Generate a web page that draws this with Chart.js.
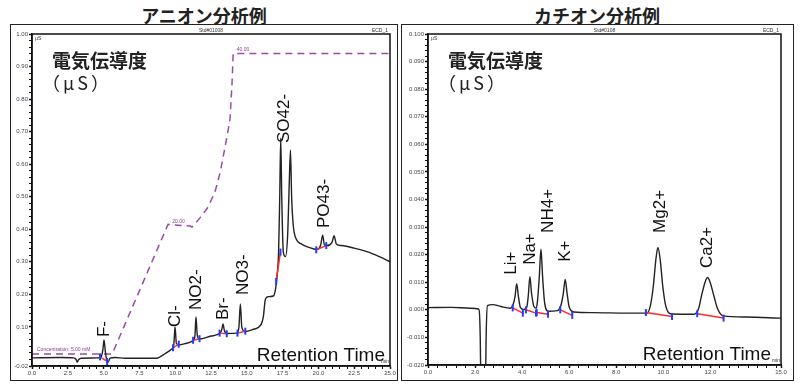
<!DOCTYPE html>
<html>
<head>
<meta charset="utf-8">
<script src="https://cdn.jsdelivr.net/npm/chart.js@4.4.1/dist/chart.umd.min.js"></script>
<style>
body{margin:0;background:#fff;width:800px;height:385px;position:relative;overflow:hidden;}
.title{position:absolute;top:6px;font-family:"Noto Sans CJK JP",sans-serif;font-size:18px;line-height:18px;font-weight:bold;color:#222;text-align:center;}
.frame{position:absolute;border:1.5px solid #222;box-sizing:border-box;}
.wrap{position:absolute;}
</style>
</head>
<body>
<div class="title" style="left:10px;width:388px">アニオン分析例</div>
<div class="title" style="left:401px;width:392px">カチオン分析例</div>
<div class="frame" style="left:10px;top:24px;width:388px;height:357px"></div>
<div class="frame" style="left:401px;top:24px;width:393px;height:357px"></div>
<div class="wrap" style="left:10px;top:24px"><canvas id="anion" width="388" height="356"></canvas></div>
<div class="wrap" style="left:401px;top:24px"><canvas id="cation" width="392" height="356"></canvas></div>
<script>
// anion chromatogram (min / uS)
var anionTime = [0.0, 2.0, 2.9, 3.08, 3.16, 3.26, 3.45, 4.6, 4.85, 4.95, 5.03, 5.12, 5.22, 5.32, 5.45, 5.8, 6.5, 8.7,
  9.3, 9.75, 9.9, 9.99, 10.08, 10.25, 10.8, 11.25, 11.38, 11.45, 11.54, 11.7, 12.5, 13.15, 13.27, 13.34, 13.43, 13.6,
  14.3, 14.45, 14.55, 14.65, 14.85, 15.4, 16.0, 16.15, 16.3, 16.5, 16.85, 17.0, 17.12, 17.22, 17.3, 17.37, 17.44,
  17.55, 17.7, 17.85, 17.97, 18.05, 18.13, 18.25, 18.45, 18.8, 19.3, 19.9, 20.15, 20.3, 20.42, 20.6, 20.95, 21.1,
  21.25, 21.6, 22.5, 23.5, 24.3, 25.0];
var anionSignal = [0.005, 0.006, 0.005, 0.0, -0.008, 0.0, 0.004, 0.005, 0.01, 0.03, 0.06, 0.025, -0.002, -0.008, 0.004, 0.006, 0.004, 0.004,
  0.018, 0.032, 0.045, 0.10, 0.05, 0.045, 0.05, 0.058, 0.075, 0.131, 0.075, 0.063, 0.072, 0.082, 0.095, 0.109, 0.09, 0.08,
  0.081, 0.10, 0.171, 0.10, 0.086, 0.092, 0.108, 0.13, 0.185, 0.193, 0.195, 0.215, 0.26, 0.33, 0.5, 0.68, 0.5,
  0.33, 0.316, 0.38, 0.55, 0.643, 0.5, 0.41, 0.37, 0.355, 0.345, 0.338, 0.35, 0.382, 0.352, 0.35, 0.36, 0.38,
  0.355, 0.35, 0.342, 0.33, 0.315, 0.30];
// eluent gradient (dashed purple)
var anionGradTime = [0, 5.6, 9.5, 11.05, 11.17, 11.73, 12.29, 12.78, 13.13, 13.4, 13.68, 13.83, 13.97, 14.05, 25];
var anionGradValue = [0.017, 0.017, 0.415, 0.41, 0.407, 0.435, 0.468, 0.515, 0.573, 0.634, 0.70, 0.74, 0.85, 0.94, 0.94];
// integration start/end marks
var anionIntTime = [4.75, 5.25, 9.85, 10.25, 11.25, 11.7, 13.1, 13.6, 14.35, 14.9, 17.05, 17.35, 19.85, 20.55];
var anionIntValue = [0.008, -0.006, 0.036, 0.047, 0.059, 0.064, 0.081, 0.079, 0.081, 0.087, 0.24, 0.33, 0.337, 0.35];
var anionPeakNames = ['F-', 'Cl-', 'NO2-', 'Br-', 'NO3-', 'SO42-', 'PO43-'];
var anionPeakTimes = [5.03, 9.99, 11.45, 13.34, 14.73, 17.6, 20.39];
var anionXLabels = [0, 2.5, 5, 7.5, 10, 12.5, 15, 17.5, 20, 22.5, 25];
var anionYLabels = [-0.02, 0.1, 0.2, 0.3, 0.4, 0.5, 0.6, 0.7, 0.8, 0.9, 1.0];

// cation chromatogram
var cationTime = [0.0, 1.0, 1.8, 2.15, 2.22, 2.27, 2.42, 2.47, 2.53, 2.75, 3.1, 3.5, 3.62, 3.7, 3.77, 3.84, 3.93, 4.08,
  4.2, 4.26, 4.33, 4.4, 4.5, 4.6, 4.65, 4.73, 4.8, 4.87, 4.95, 5.1, 5.5, 5.66, 5.75, 5.83, 5.91, 6.0, 6.2, 7.0, 8.5,
  9.3, 9.45, 9.58, 9.68, 9.77, 9.87, 9.97, 10.1, 10.35, 11.3, 11.5, 11.62, 11.78, 11.88, 11.98, 12.15, 12.3, 12.55,
  13.5, 15.0];
var cationSignal = [0.0008, 0.0009, 0.0006, 0.0003, -0.01, -0.045, -0.045, -0.01, 0.0015, 0.0019, 0.0012, 0.0006, 0.002, 0.005, 0.0095, 0.005, 0.0008, 0.0001,
  0.001, 0.005, 0.012, 0.006, 0.0012, 0.0006, 0.003, 0.012, 0.022, 0.012, 0.003, -0.0005, -0.0003, 0.002, 0.006, 0.011, 0.006, 0.001, -0.0008, -0.001, -0.0012,
  -0.0012, 0.0015, 0.009, 0.018, 0.0226, 0.018, 0.009, 0.0015, -0.0015, -0.0016, 0.0005, 0.005, 0.0102, 0.0117, 0.0102, 0.005, 0.0005, -0.0022,
  -0.0026, -0.003];
var cationIntTime = [3.6, 4.03, 4.16, 4.59, 4.62, 5.1, 5.62, 6.13, 9.26, 10.37, 11.44, 12.56];
var cationIntValue = [0.0007, -0.0012, 0.0, -0.0012, -0.001, -0.0016, 0.0, -0.002, -0.001, -0.0024, -0.0014, -0.003];
var cationPeakNames = ['Li+', 'Na+', 'NH4+', 'K+', 'Mg2+', 'Ca2+'];
var cationPeakTimes = [3.56, 4.33, 5.1, 5.83, 9.86, 11.87];
var cationXLabels = [0, 2, 4, 6, 8, 10, 12, 15];
var cationYLabels = [-0.02, -0.01, 0, 0.01, 0.02, 0.03, 0.04, 0.05, 0.06, 0.07, 0.08, 0.09, 0.1];

function xy(xs, ys) {
	return xs.map(function (x, i) { return {x: x, y: ys[i]}; });
}
function segs(xs, ys) {
	var out = [];
	for (var i = 0; i < xs.length; i += 2) {
		out.push({x: xs[i], y: ys[i]}, {x: xs[i + 1], y: ys[i + 1]}, {x: xs[i + 1], y: null});
	}
	return out;
}
function isLabel(v, labels) {
	return labels.some(function (l) { return Math.abs(l - v) < 1e-6; });
}
function buildTicks(min, max, step, labels) {
	var list = [];
	var n = Math.floor((max - min) / step + 1e-9);
	for (var i = 0; i <= n; i++) list.push(+(min + i * step).toFixed(4));
	labels.forEach(function (v) { if (!isLabel(v, list)) list.push(v); });
	list.sort(function (a, b) { return a - b; });
	return list.map(function (v) { return {value: v}; });
}

var LATIN = '"Liberation Sans", Arial, sans-serif';
var JP = '"Noto Sans CJK JP", sans-serif';

var panelText = {
	id: 'panelText',
	afterDatasetsDraw: function (chart, args, o) {
		var ctx = chart.ctx, a = chart.chartArea, xs = chart.scales.x, ys = chart.scales.y;
		ctx.save();
		ctx.strokeStyle = '#111';
		ctx.lineWidth = 1.5;
		ctx.strokeRect(a.left, a.top, a.right - a.left, a.bottom - a.top);

		ctx.fillStyle = '#111';
		ctx.font = '17px ' + LATIN;
		ctx.textAlign = 'left';
		ctx.textBaseline = 'middle';
		o.names.forEach(function (n, i) {
			ctx.save();
			ctx.translate(xs.getPixelForValue(o.times[i]), ys.getPixelForValue(o.base[i]));
			ctx.rotate(-Math.PI / 2);
			ctx.fillText(n, 0, 0);
			ctx.restore();
		});

		ctx.fillStyle = '#222';
		ctx.font = 'bold 19px ' + JP;
		ctx.fillText('電気伝導度', a.left + 20, a.top + 27);
		ctx.font = '18px ' + JP;
		ctx.letterSpacing = '3px';
		ctx.fillText('（μS）', a.left + 10, a.top + 49);
		ctx.letterSpacing = '0px';

		ctx.fillStyle = '#111';
		ctx.font = '19px ' + LATIN;
		ctx.textAlign = 'right';
		ctx.textBaseline = 'alphabetic';
		ctx.fillText('Retention Time', a.right - o.retRight, a.bottom - 5);

		// small header texts of the data system
		ctx.font = '5px ' + LATIN;
		ctx.fillStyle = '#333';
		ctx.textBaseline = 'middle';
		ctx.textAlign = 'center';
		ctx.fillText(o.header, (a.left + a.right) / 2, a.top - 3);
		ctx.textAlign = 'right';
		ctx.fillText('ECD_1', a.right - 2, a.top - 3);
		ctx.fillText('min', a.right - 1, a.bottom - 4);
		ctx.textAlign = 'left';
		ctx.fillText('µS', a.left + 3, a.top + 5);

		ctx.fillStyle = '#8e3a9a';
		(o.notes || []).forEach(function (t) {
			ctx.fillText(t.text, xs.getPixelForValue(t.x), ys.getPixelForValue(t.y));
		});
		ctx.restore();
	}
};

function axis(min, max, step, labels, dec, size) {
	return {
		type: 'linear',
		min: min,
		max: max,
		afterBuildTicks: function (s) { s.ticks = buildTicks(min, max, step, labels); },
		afterFit: size,
		border: {color: '#111', width: 1.5},
		grid: {
			drawOnChartArea: false,
			tickLength: 3,
			tickColor: '#111',
			tickWidth: function (c) { return c.tick && isLabel(c.tick.value, labels) ? 1.5 : 1; }
		},
		ticks: {
			autoSkip: false,
			maxRotation: 0,
			padding: 1,
			color: '#445',
			font: {family: LATIN, size: 6},
			callback: function (v) { return isLabel(v, labels) ? v.toFixed(dec) : ''; }
		}
	};
}

function makeChart(id, cfg) {
	var datasets = [
		{data: xy(cfg.time, cfg.signal), borderColor: '#222', borderWidth: 1.4, pointRadius: 0, cubicInterpolationMode: 'monotone', order: 2},
		{data: segs(cfg.intTime, cfg.intValue), borderColor: '#ff2a2a', borderWidth: 1.5, pointRadius: 0, spanGaps: false, order: 1},
		{data: xy(cfg.intTime, cfg.intValue), showLine: false, pointStyle: 'line', rotation: 90, pointRadius: 3.5, borderColor: '#1f3cff', borderWidth: 2, order: 0}
	];
	if (cfg.gradTime) {
		datasets.push({data: xy(cfg.gradTime, cfg.gradValue), borderColor: '#9b4aa8', borderWidth: 1.5, borderDash: [7, 5], pointRadius: 0, tension: 0, order: 3});
	}
	return new Chart(document.getElementById(id).getContext('2d'), {
		type: 'line',
		data: {datasets: datasets},
		options: {
			responsive: false,
			animation: false,
			layout: {padding: cfg.padding},
			scales: {
				x: axis(cfg.xMin, cfg.xMax, cfg.xStep, cfg.xLabels, 1, function (s) { s.height = cfg.xHeight; }),
				y: axis(cfg.yMin, cfg.yMax, cfg.yStep, cfg.yLabels, cfg.yDec, function (s) { s.width = cfg.yWidth; })
			},
			plugins: {
				legend: {display: false},
				tooltip: {enabled: false},
				panelText: cfg.text
			}
		},
		plugins: [panelText]
	});
}

makeChart('anion', {
	time: anionTime, signal: anionSignal, gradTime: anionGradTime, gradValue: anionGradValue,
	intTime: anionIntTime, intValue: anionIntValue,
	xMin: 0, xMax: 25, xStep: 0.5, xLabels: anionXLabels,
	yMin: -0.02, yMax: 1.0, yStep: 0.02, yLabels: anionYLabels, yDec: 2,
	padding: {top: 10, right: 8, left: 0, bottom: 0}, xHeight: 14, yWidth: 22,
	text: {
		names: anionPeakNames, times: anionPeakTimes,
		base: [0.069, 0.10, 0.152, 0.121, 0.198, 0.665, 0.404],
		retRight: 5, header: 'Std#01008',
		notes: [{text: 'Concentration: 5.00 mM', x: 0.35, y: 0.029}, {text: '20.00', x: 9.8, y: 0.425}, {text: '40.00', x: 14.3, y: 0.951}]
	}
});

makeChart('cation', {
	time: cationTime, signal: cationSignal,
	intTime: cationIntTime, intValue: cationIntValue,
	xMin: 0, xMax: 15, xStep: 0.4, xLabels: cationXLabels,
	yMin: -0.02, yMax: 0.1, yStep: 0.002, yLabels: cationYLabels, yDec: 3,
	padding: {top: 10, right: 12, left: 0, bottom: 0}, xHeight: 15, yWidth: 27,
	text: {
		names: cationPeakNames, times: cationPeakTimes,
		base: [0.0127, 0.0163, 0.0279, 0.0174, 0.0279, 0.0152],
		retRight: 10, header: 'Std#0108'
	}
});
</script>
</body>
</html>
